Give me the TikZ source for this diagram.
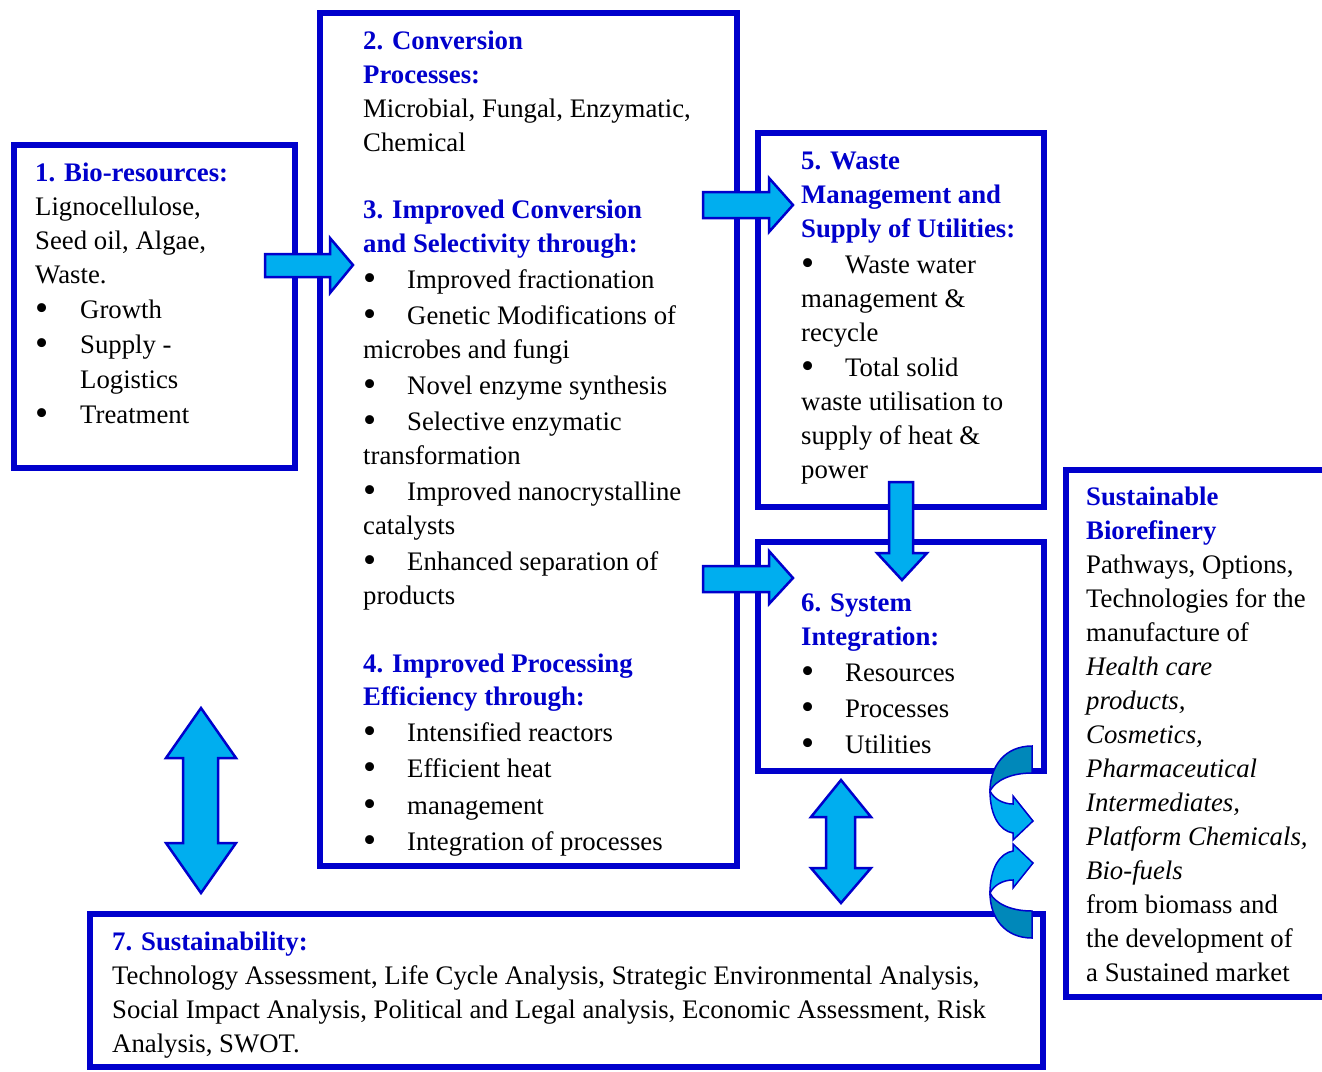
\documentclass[tikz,border=0pt]{standalone}
\usepackage{fontspec}
\setmainfont{Liberation Serif}
\usepackage{xcolor}
\definecolor{boxblue}{RGB}{0,0,204}
\definecolor{arrowfill}{RGB}{0,174,239}
\definecolor{arrowdark}{RGB}{0,136,186}
\newcommand\hd[1]{{\color{boxblue}\bfseries #1}}
\newcommand\blt{\raisebox{-2.5pt}{\scalebox{1.4}{\textbullet}}}
\newcommand\itm{\makebox[44pt][l]{\blt}}

\begin{document}
\begin{tikzpicture}[x=1pt,y=-1pt,
  box/.style={draw=boxblue,line width=6pt,inner sep=0,fill=white},
  txt/.style={anchor=north west,inner sep=0,align=left,font=\fontsize{26.75}{34}\selectfont},
  blockarrow/.style={draw=boxblue,line width=2.5pt,fill=arrowfill,line join=miter},
  curvy/.pic={
    \draw[blockarrow,line width=1.5pt,fill=arrowdark] (0,-96) .. controls (-27,-96) and (-42,-76) .. (-42,-51)
      .. controls (-37,-61) and (-22,-69) .. (0,-69) -- cycle;                   % back of the ribbon
    \draw[blockarrow,line width=1.5pt] (-42,-51) .. controls (-42,-26) and (-32,-11) .. (-19,-9)
      -- (-19,-2) -- (1,-21) -- (-19,-46) -- (-19,-38)
      .. controls (-29,-38) and (-38,-43) .. (-42,-51) -- cycle;                  % front with head
  }
  ]
\useasboundingbox[fill=white] (0,0) rectangle (1322,1071);
% boxes
\node[box,minimum width=281,minimum height=323] (res) at (154.5,306.5) {};    % 1. bio-resources
\node[box,minimum width=417,minimum height=853] (conv) at (528.5,439.5) {};   % 2.-4. conversion
\node[box,minimum width=286,minimum height=374] (waste) at (901,320) {};      % 5. waste
\node[box,minimum width=286,minimum height=229] (sys) at (901,656.5) {};      % 6. system integration
\node[box,minimum width=259,minimum height=527] (bio) at (1195.5,733.5) {};   % sustainable biorefinery
\node[box,minimum width=953,minimum height=153] (sust) at (566.5,990.5) {};   % 7. sustainability
% texts
\node[txt] (resT) at (35,157.2) {\strut\hd{1. Bio-resources:}\\
  Lignocellulose,\\ Seed oil, Algae,\\ Waste.\\[1pt]
  \makebox[45pt][l]{\blt}Growth\\[1pt]
  \makebox[45pt][l]{\blt}Supply -\\[1pt]
  \hspace*{45pt}Logistics\\[1pt]
  \makebox[45pt][l]{\blt}Treatment};
\node[txt] (convT) at (363,25.2) {\strut\hd{2. Conversion}\\ \hd{Processes:}\\
  Microbial, Fungal, Enzymatic,\\ Chemical};
\node[txt] (selT) at (363,194.2) {\strut\hd{3. Improved Conversion}\\ \hd{and Selectivity through:}\\[2pt]
  \itm Improved fractionation\\[2pt]
  \itm Genetic Modifications of\\ microbes and fungi\\[2pt]
  \itm Novel enzyme synthesis\\[2pt]
  \itm Selective enzymatic\\ transformation\\[2pt]
  \itm Improved nanocrystalline\\ catalysts\\[2pt]
  \itm Enhanced separation of\\ products};
\node[txt] (effT) at (363,648.2) {\strut\hd{4. Improved Processing}\\[-1pt] \hd{Efficiency through:}\\[2pt]
  \itm Intensified reactors\\[2pt]
  \itm Efficient heat\\[3pt]
  \itm management\\[2pt]
  \itm Integration of processes};
\node[txt] (wasteT) at (801,145.2) {\strut\hd{5. Waste}\\ \hd{Management and}\\ \hd{Supply of Utilities:}\\[2pt]
  \itm Waste water\\ management \&\\ recycle\\[1pt]
  \itm Total solid\\ waste utilisation to\\ supply of heat \&\\ power};
\node[txt] (sysT) at (801,587.2) {\strut\hd{6. System}\\ \hd{Integration:}\\[2pt]
  \itm Resources\\[2pt]
  \itm Processes\\[2pt]
  \itm Utilities};
\node[txt] (bioT) at (1086,481.2) {\strut\hd{Sustainable}\\ \hd{Biorefinery}\\
  Pathways, Options,\\ Technologies for the\\ manufacture of\\
  \textit{Health care}\\ \textit{products,}\\ \textit{Cosmetics,}\\ \textit{Pharmaceutical}\\
  \textit{Intermediates,}\\ \textit{Platform Chemicals,}\\ \textit{Bio-fuels}\\
  from biomass and\\ the development of\\ a Sustained market};
\node[txt] (sustT) at (112,926.2) {\strut\hd{7. Sustainability:}\\
  Technology Assessment, Life Cycle Analysis, Strategic Environmental Analysis,\\
  Social Impact Analysis, Political and Legal analysis, Economic Assessment, Risk\\
  Analysis, SWOT.};
% block arrows
\draw[blockarrow] (265,254) -- (330,254) -- (330,238) -- (353,265) -- (330,293) -- (330,277) -- (265,277) -- cycle;   % 1 to 2
\draw[blockarrow] (703,192) -- (769,192) -- (769,178) -- (793,205) -- (769,232) -- (769,218) -- (703,218) -- cycle;   % 2 to 5
\draw[blockarrow] (703,566) -- (769,566) -- (769,551) -- (793,578) -- (769,604) -- (769,592) -- (703,592) -- cycle;   % 2 to 6
\draw[blockarrow] (889,482) -- (889,553) -- (877,553) -- (902,580) -- (927,553) -- (913,553) -- (913,482) -- cycle;   % 5 to 6
\draw[blockarrow] (201,708) -- (236,758) -- (218,758) -- (218,843) -- (236,843) -- (201,893)
  -- (166,843) -- (183,843) -- (183,758) -- (166,758) -- cycle;                                                     % 1,2 with 7
\draw[blockarrow] (841,780) -- (871,817) -- (855,817) -- (855,868) -- (871,868) -- (841,903)
  -- (811,868) -- (826,868) -- (826,817) -- (811,817) -- cycle;                                                     % 6 with 7
% curved arrows into the biorefinery box
\pic at (1032,842) {curvy};
\pic[yscale=-1] at (1032,842) {curvy};
\end{tikzpicture}
\end{document}
